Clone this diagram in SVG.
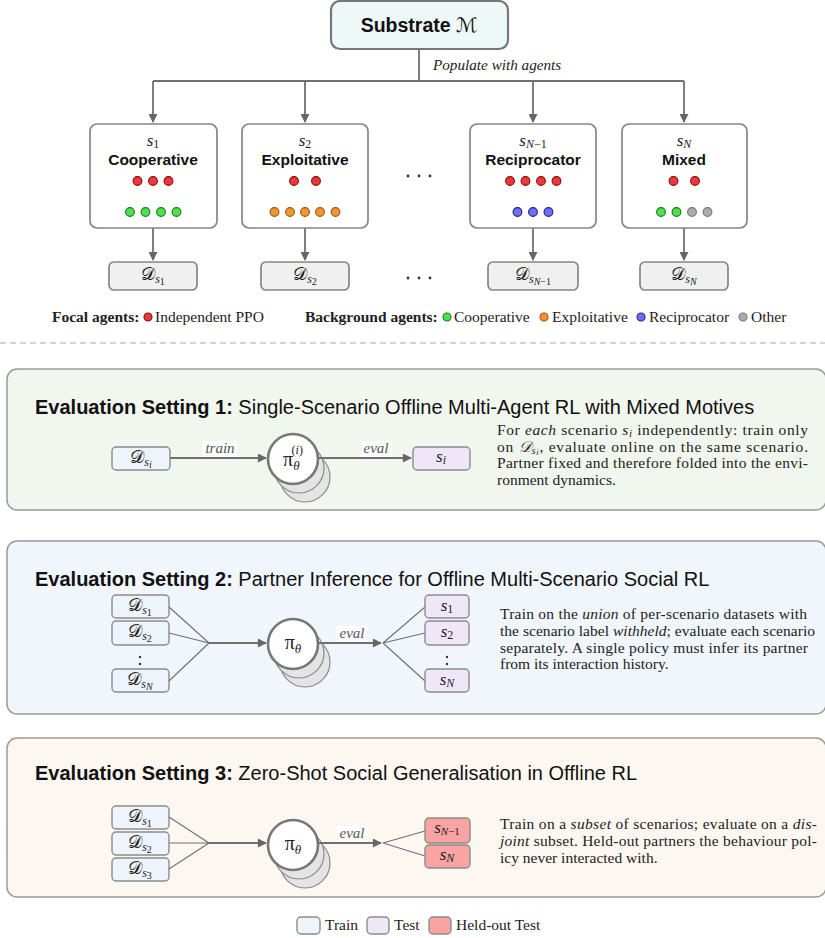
<svg xmlns="http://www.w3.org/2000/svg" width="825" height="938" viewBox="0 0 825 938">
<defs>
<marker id="ah" viewBox="0 0 10 10" refX="9" refY="5" markerWidth="10" markerHeight="9" orient="auto" markerUnits="userSpaceOnUse"><path d="M0,0 L10,5 L0,10 z" fill="#666"/></marker>
<style>
.sans{font-family:"Liberation Sans",Arial,sans-serif}
.serif{font-family:"Liberation Serif","Times New Roman",serif}
.cal{font-family:"DejaVu Serif","DejaVu Sans",serif;font-style:normal}
.it{font-style:italic}
.node{fill:#fff;stroke:#858585;stroke-width:1.7}
.ds{fill:#f0f0f0;stroke:#858585;stroke-width:1.7}
.train{fill:#eef4fc;stroke:#8c8c8c;stroke-width:1.4}
.test{fill:#efe6f8;stroke:#8c8c8c;stroke-width:1.4}
.held{fill:#f9a3a3;stroke:#8c8c8c;stroke-width:1.4}
.ln{stroke:#707070;stroke-width:1.8;fill:none}
.thin{stroke:#707070;stroke-width:1.1;fill:none}
.red{fill:#e83a3a;stroke:#8a0c0c;stroke-width:1.1}
.grn{fill:#4ee04e;stroke:#1a7a1a;stroke-width:1.1}
.org{fill:#f3952f;stroke:#9a5616;stroke-width:1.1}
.blu{fill:#6f6ff0;stroke:#1f1f9a;stroke-width:1.1}
.gry{fill:#ababab;stroke:#777;stroke-width:1.1}
.sh{fill:#e4e4e4;stroke:#8a8a8a;stroke-width:1.2}
.pi{fill:#fff;stroke:#777;stroke-width:2.6}
.lbl{font-family:"Liberation Serif",serif;font-style:italic;font-size:15px;fill:#555}
.body{font-family:"Liberation Serif","Times New Roman",serif;font-size:15.5px;fill:#222}
.title{font-family:"Liberation Sans",Arial,sans-serif;font-size:20px;fill:#111}
.math{font-family:"Liberation Serif",serif;font-size:17px;fill:#222}
.bold{font-weight:bold}
</style>
</defs>
<rect x="0" y="0" width="825" height="938" fill="#fff"/>

<!-- Connectors -->
<g id="connectors">
<path class="ln" d="M419,49 V81 M153,81 H684"/>
<line class="ln" x1="153" y1="81" x2="153" y2="122" marker-end="url(#ah)"/>
<line class="ln" x1="305" y1="81" x2="305" y2="122" marker-end="url(#ah)"/>
<line class="ln" x1="533" y1="81" x2="533" y2="122" marker-end="url(#ah)"/>
<line class="ln" x1="684" y1="81" x2="684" y2="122" marker-end="url(#ah)"/>
<line class="ln" x1="153" y1="228" x2="153" y2="260" marker-end="url(#ah)"/>
<line class="ln" x1="305" y1="228" x2="305" y2="260" marker-end="url(#ah)"/>
<line class="ln" x1="533" y1="228" x2="533" y2="260" marker-end="url(#ah)"/>
<line class="ln" x1="684" y1="228" x2="684" y2="260" marker-end="url(#ah)"/>
<text class="serif it" x="433" y="70" font-size="15.2" fill="#222">Populate with agents</text>
</g>

<!-- Substrate -->
<g id="substrate">
<rect x="331" y="1" width="177" height="48" rx="9" fill="#eef8f8" stroke="#777" stroke-width="2.2"/>
<text x="419" y="32" text-anchor="middle" class="sans bold" font-size="19.5" fill="#111">Substrate <tspan class="cal" font-weight="normal" font-size="20">ℳ</tspan></text>
</g>

<!-- Agent scenario nodes -->
<g id="s1">
<rect class="node" x="90" y="124" width="127" height="104" rx="7"/>
<text class="math" x="153" y="146" text-anchor="middle"><tspan class="it">s</tspan><tspan font-size="12" dy="2">1</tspan></text>
<text class="sans bold" x="153" y="165" text-anchor="middle" font-size="15.5" fill="#111">Cooperative</text>
<circle class="red" cx="137.5" cy="181" r="4.4"/><circle class="red" cx="153" cy="181" r="4.4"/><circle class="red" cx="168.5" cy="181" r="4.4"/>
<circle class="grn" cx="130" cy="212" r="4.4"/><circle class="grn" cx="145.5" cy="212" r="4.4"/><circle class="grn" cx="161" cy="212" r="4.4"/><circle class="grn" cx="176.5" cy="212" r="4.4"/>
</g>
<g id="s2">
<rect class="node" x="242" y="124" width="126" height="104" rx="7"/>
<text class="math" x="305" y="146" text-anchor="middle"><tspan class="it">s</tspan><tspan font-size="12" dy="2">2</tspan></text>
<text class="sans bold" x="305" y="165" text-anchor="middle" font-size="15.5" fill="#111">Exploitative</text>
<circle class="red" cx="294" cy="181" r="4.4"/><circle class="red" cx="316" cy="181" r="4.4"/>
<circle class="org" cx="274.5" cy="212" r="4.4"/><circle class="org" cx="290" cy="212" r="4.4"/><circle class="org" cx="305" cy="212" r="4.4"/><circle class="org" cx="320" cy="212" r="4.4"/><circle class="org" cx="335.5" cy="212" r="4.4"/>
</g>
<g id="dots-top">
<circle cx="408" cy="176" r="1.4" fill="#333"/><circle cx="419" cy="176" r="1.4" fill="#333"/><circle cx="430" cy="176" r="1.4" fill="#333"/>
</g>
<g id="sN1">
<rect class="node" x="470" y="124" width="126" height="104" rx="7"/>
<text class="math" x="533" y="146" text-anchor="middle"><tspan class="it">s</tspan><tspan font-size="12" dy="2"><tspan class="it">N</tspan>−1</tspan></text>
<text class="sans bold" x="533" y="165" text-anchor="middle" font-size="15.5" fill="#111">Reciprocator</text>
<circle class="red" cx="510" cy="181" r="4.4"/><circle class="red" cx="525.5" cy="181" r="4.4"/><circle class="red" cx="541" cy="181" r="4.4"/><circle class="red" cx="556.5" cy="181" r="4.4"/>
<circle class="blu" cx="517.5" cy="212" r="4.4"/><circle class="blu" cx="533" cy="212" r="4.4"/><circle class="blu" cx="548.5" cy="212" r="4.4"/>
</g>
<g id="sN">
<rect class="node" x="622" y="124" width="125" height="104" rx="7"/>
<text class="math" x="684" y="146" text-anchor="middle"><tspan class="it">s</tspan><tspan font-size="12" dy="2" class="it">N</tspan></text>
<text class="sans bold" x="684" y="165" text-anchor="middle" font-size="15.5" fill="#111">Mixed</text>
<circle class="red" cx="673.5" cy="181" r="4.4"/><circle class="red" cx="695" cy="181" r="4.4"/>
<circle class="grn" cx="661" cy="212" r="4.4"/><circle class="grn" cx="676.5" cy="212" r="4.4"/><circle class="gry" cx="692" cy="212" r="4.4"/><circle class="gry" cx="707.5" cy="212" r="4.4"/>
</g>

<!-- Datasets -->
<g id="d1">
<rect class="ds" x="109" y="262" width="88" height="28" rx="5"/>
<text class="math" x="153" y="280" text-anchor="middle"><tspan class="cal" font-size="18">𝒟</tspan><tspan class="it" font-size="12" dy="3">s</tspan><tspan font-size="10" dy="2">1</tspan></text>
</g>
<g id="d2">
<rect class="ds" x="261" y="262" width="88" height="28" rx="5"/>
<text class="math" x="305" y="280" text-anchor="middle"><tspan class="cal" font-size="18">𝒟</tspan><tspan class="it" font-size="12" dy="3">s</tspan><tspan font-size="10" dy="2">2</tspan></text>
</g>
<g id="dots-ds">
<circle cx="408" cy="278" r="1.4" fill="#333"/><circle cx="419" cy="278" r="1.4" fill="#333"/><circle cx="430" cy="278" r="1.4" fill="#333"/>
</g>
<g id="dN1">
<rect class="ds" x="488" y="262" width="90" height="28" rx="5"/>
<text class="math" x="533" y="280" text-anchor="middle"><tspan class="cal" font-size="18">𝒟</tspan><tspan class="it" font-size="12" dy="3">s</tspan><tspan font-size="10" dy="2"><tspan class="it">N</tspan>−1</tspan></text>
</g>
<g id="dN">
<rect class="ds" x="640" y="262" width="88" height="28" rx="5"/>
<text class="math" x="684" y="280" text-anchor="middle"><tspan class="cal" font-size="18">𝒟</tspan><tspan class="it" font-size="12" dy="3">s</tspan><tspan class="it" font-size="10" dy="2">N</tspan></text>
</g>

<!-- Agent legend -->
<g id="agent-legend" class="serif" font-size="15.5" fill="#222">
<text x="52" y="322" class="bold">Focal agents:</text>
<circle class="red" cx="148" cy="317" r="4"/>
<text x="155" y="322">Independent PPO</text>
<text x="305" y="322" class="bold">Background agents:</text>
<circle class="grn" cx="447" cy="317" r="4"/>
<text x="454" y="322">Cooperative</text>
<circle class="org" cx="544" cy="317" r="4"/>
<text x="552" y="322">Exploitative</text>
<circle class="blu" cx="641" cy="317" r="4"/>
<text x="649" y="322">Reciprocator</text>
<circle class="gry" cx="743" cy="317" r="4"/>
<text x="751" y="322">Other</text>
</g>
<line x1="0" y1="343" x2="825" y2="343" stroke="#aaa" stroke-width="1.2" stroke-dasharray="6,4"/>

<!-- Setting 1 -->
<g id="setting1">
<rect x="7" y="369" width="819" height="141" rx="10" fill="#f1f6ee" stroke="#9a9a9a" stroke-width="1.5"/>
<text class="title" x="35" y="414"><tspan class="bold">Evaluation Setting 1:</tspan> Single-Scenario Offline Multi-Agent RL with Mixed Motives</text>
<rect class="train" x="112" y="447" width="58" height="23" rx="4"/>
<text class="math" x="141" y="463" text-anchor="middle"><tspan class="cal" font-size="18">𝒟</tspan><tspan class="it" font-size="12" dy="3">s</tspan><tspan class="it" font-size="10" dy="2">i</tspan></text>
<line class="ln" x1="170" y1="458" x2="266" y2="458" marker-end="url(#ah)"/>
<rect x="202" y="441" width="36" height="16" fill="#fff"/>
<text class="lbl" x="220" y="453" text-anchor="middle">train</text>
<circle class="sh" cx="305" cy="477" r="25"/>
<circle class="sh" cx="299" cy="468" r="25"/>
<circle class="pi" cx="293" cy="459" r="25"/>
<text class="math" x="293" y="466" text-anchor="middle"><tspan font-size="20">π</tspan><tspan class="it" font-size="13" dy="4">θ</tspan><tspan font-size="12" dx="-8" dy="-16">(<tspan class="it">i</tspan>)</tspan></text>
<line class="ln" x1="318" y1="458" x2="411" y2="458" marker-end="url(#ah)"/>
<rect x="361" y="441" width="31" height="16" fill="#fff"/>
<text class="lbl" x="376" y="453" text-anchor="middle">eval</text>
<rect class="test" x="413" y="447" width="57" height="23" rx="4"/>
<text class="math" x="441" y="462" text-anchor="middle"><tspan class="it">s</tspan><tspan class="it" font-size="12" dy="2">i</tspan></text>
<text class="body" x="497" y="435" textLength="311" lengthAdjust="spacing">For <tspan class="it">each</tspan> scenario <tspan class="it">s</tspan><tspan class="it" font-size="11" dy="1.5">i</tspan><tspan dy="-1.5"> independently: train only</tspan></text>
<text class="body" x="497" y="451.5" textLength="311" lengthAdjust="spacing">on <tspan class="serif it" font-size="15.5">𝒟</tspan><tspan class="it" font-size="10.5" dy="2">s</tspan><tspan class="it" font-size="8.5" dy="1.5">i</tspan><tspan dy="-3.5">, evaluate online on the same scenario.</tspan></text>
<text class="body" x="497" y="468" textLength="311" lengthAdjust="spacing">Partner fixed and therefore folded into the envi-</text>
<text class="body" x="497" y="484.5">ronment dynamics.</text>
</g>

<!-- Setting 2 -->
<g id="setting2">
<rect x="7" y="541" width="819" height="173" rx="10" fill="#f1f5fc" stroke="#9a9a9a" stroke-width="1.5"/>
<text class="title" x="35" y="586"><tspan class="bold">Evaluation Setting 2:</tspan> Partner Inference for Offline Multi-Scenario Social RL</text>
<rect class="train" x="112" y="595" width="57" height="23" rx="4"/>
<rect class="train" x="112" y="621" width="57" height="24" rx="4"/>
<rect class="train" x="112" y="669" width="57" height="23" rx="4"/>
<text class="math" x="140" y="611" text-anchor="middle"><tspan class="cal" font-size="18">𝒟</tspan><tspan class="it" font-size="12" dy="3">s</tspan><tspan font-size="10" dy="2">1</tspan></text>
<text class="math" x="140" y="637" text-anchor="middle"><tspan class="cal" font-size="18">𝒟</tspan><tspan class="it" font-size="12" dy="3">s</tspan><tspan font-size="10" dy="2">2</tspan></text>
<text class="math" x="140" y="685" text-anchor="middle"><tspan class="cal" font-size="18">𝒟</tspan><tspan class="it" font-size="12" dy="3">s</tspan><tspan class="it" font-size="10" dy="2">N</tspan></text>
<circle cx="140" cy="657" r="1.2" fill="#333"/><circle cx="140" cy="664" r="1.2" fill="#333"/>
<path class="thin" d="M169,607 L209,643 M169,633 L209,643 M169,681 L209,643"/>
<line class="ln" x1="209" y1="643" x2="266" y2="643" marker-end="url(#ah)"/>
<circle class="sh" cx="305" cy="662" r="25"/>
<circle class="sh" cx="299" cy="653" r="25"/>
<circle class="pi" cx="293" cy="644" r="25"/>
<text class="math" x="293" y="649" text-anchor="middle"><tspan font-size="20">π</tspan><tspan class="it" font-size="13" dy="4">θ</tspan></text>
<line class="ln" x1="318" y1="643" x2="381" y2="643" marker-end="url(#ah)"/>
<rect x="336" y="626" width="31" height="16" fill="#fff"/>
<text class="lbl" x="352" y="638" text-anchor="middle">eval</text>
<path class="thin" d="M383,643 L425,607 M383,643 L425,633 M383,643 L425,681"/>
<rect class="test" x="425" y="595" width="44" height="23" rx="4"/>
<rect class="test" x="425" y="621" width="44" height="24" rx="4"/>
<rect class="test" x="425" y="669" width="44" height="23" rx="4"/>
<text class="math" x="447" y="611" text-anchor="middle"><tspan class="it">s</tspan><tspan font-size="12" dy="2">1</tspan></text>
<text class="math" x="447" y="637" text-anchor="middle"><tspan class="it">s</tspan><tspan font-size="12" dy="2">2</tspan></text>
<text class="math" x="447" y="685" text-anchor="middle"><tspan class="it">s</tspan><tspan class="it" font-size="12" dy="2">N</tspan></text>
<circle cx="447" cy="657" r="1.2" fill="#333"/><circle cx="447" cy="664" r="1.2" fill="#333"/>
<text class="body" x="500" y="619" textLength="307" lengthAdjust="spacing">Train on the <tspan class="it">union</tspan> of per-scenario datasets with</text>
<text class="body" x="500" y="636" textLength="315" lengthAdjust="spacing">the scenario label <tspan class="it">withheld</tspan>; evaluate each scenario</text>
<text class="body" x="500" y="653" textLength="308" lengthAdjust="spacing">separately.  A single policy must infer its partner</text>
<text class="body" x="500" y="669">from its interaction history.</text>
</g>

<!-- Setting 3 -->
<g id="setting3">
<rect x="7" y="738" width="819" height="159" rx="10" fill="#fdf7f1" stroke="#a09a90" stroke-width="1.5"/>
<text class="title" x="35" y="780"><tspan class="bold">Evaluation Setting 3:</tspan> Zero-Shot Social Generalisation in Offline RL</text>
<rect class="train" x="112" y="806" width="57" height="23" rx="4"/>
<rect class="train" x="112" y="832" width="57" height="23" rx="4"/>
<rect class="train" x="112" y="858" width="57" height="23" rx="4"/>
<text class="math" x="140" y="822" text-anchor="middle"><tspan class="cal" font-size="18">𝒟</tspan><tspan class="it" font-size="12" dy="3">s</tspan><tspan font-size="10" dy="2">1</tspan></text>
<text class="math" x="140" y="848" text-anchor="middle"><tspan class="cal" font-size="18">𝒟</tspan><tspan class="it" font-size="12" dy="3">s</tspan><tspan font-size="10" dy="2">2</tspan></text>
<text class="math" x="140" y="874" text-anchor="middle"><tspan class="cal" font-size="18">𝒟</tspan><tspan class="it" font-size="12" dy="3">s</tspan><tspan font-size="10" dy="2">3</tspan></text>
<path class="thin" d="M169,817 L209,843 M169,843 L209,843 M169,869 L209,843"/>
<line class="ln" x1="209" y1="843" x2="266" y2="843" marker-end="url(#ah)"/>
<circle class="sh" cx="305" cy="863" r="25"/>
<circle class="sh" cx="299" cy="854" r="25"/>
<circle class="pi" cx="293" cy="845" r="25"/>
<text class="math" x="293" y="850" text-anchor="middle"><tspan font-size="20">π</tspan><tspan class="it" font-size="13" dy="4">θ</tspan></text>
<line class="ln" x1="318" y1="843" x2="381" y2="843" marker-end="url(#ah)"/>
<rect x="336" y="826" width="31" height="16" fill="#fff"/>
<text class="lbl" x="352" y="838" text-anchor="middle">eval</text>
<path class="thin" d="M383,843 L425,831 M383,843 L425,856"/>
<rect class="held" x="425" y="818" width="45" height="25" rx="4"/>
<rect class="held" x="425" y="845" width="45" height="23" rx="4"/>
<text class="math" x="447" y="833" text-anchor="middle"><tspan class="it">s</tspan><tspan font-size="11" dy="2"><tspan class="it">N</tspan>−1</tspan></text>
<text class="math" x="447" y="860" text-anchor="middle"><tspan class="it">s</tspan><tspan class="it" font-size="12" dy="2">N</tspan></text>
<text class="body" x="500" y="829" textLength="317" lengthAdjust="spacing">Train on a <tspan class="it">subset</tspan> of scenarios; evaluate on a <tspan class="it">dis-</tspan></text>
<text class="body" x="500" y="846" textLength="317" lengthAdjust="spacing"><tspan class="it">joint</tspan> subset.  Held-out partners the behaviour pol-</text>
<text class="body" x="500" y="863">icy never interacted with.</text>
</g>

<!-- Legend -->
<g id="legend" class="serif" font-size="15.5" fill="#222">
<rect class="train" x="297" y="917" width="23" height="17" rx="4"/>
<text x="325" y="930">Train</text>
<rect class="test" x="367" y="917" width="22" height="17" rx="4"/>
<text x="394" y="930">Test</text>
<rect class="held" x="429" y="917" width="22" height="17" rx="4"/>
<text x="456" y="930">Held-out Test</text>
</g>
</svg>
